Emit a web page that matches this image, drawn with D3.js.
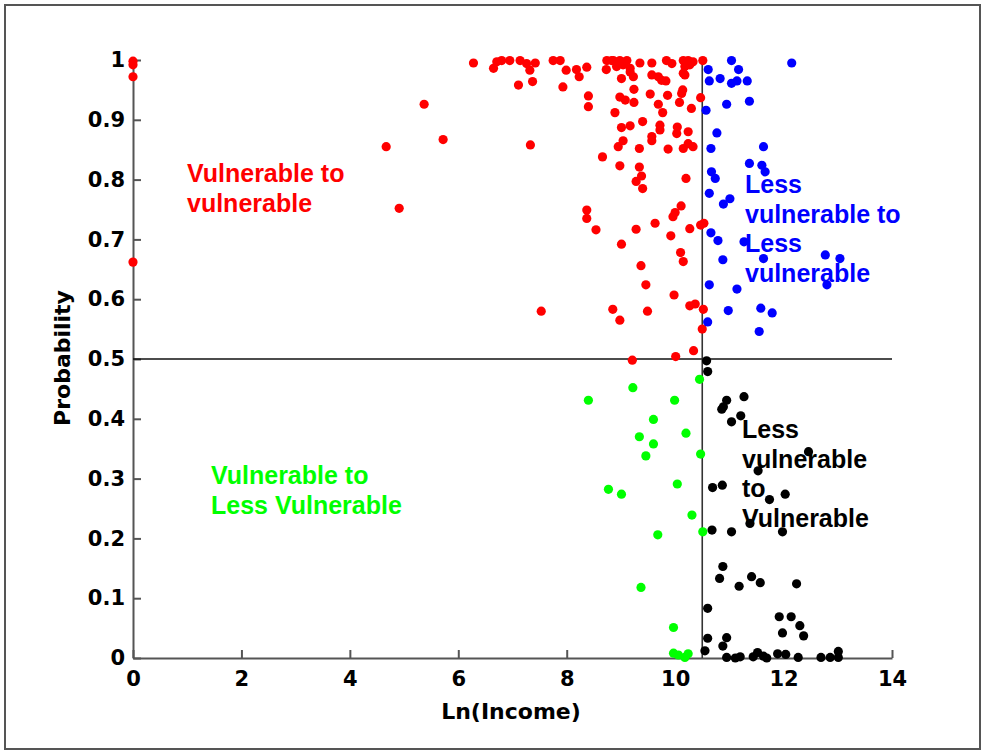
<!DOCTYPE html>
<html>
<head>
<meta charset="utf-8">
<script src="https://cdn.jsdelivr.net/npm/d3@7"></script>
<style>
  body { margin: 0; background: #fff; }
  .axis text { font-family: "DejaVu Sans", Verdana, sans-serif; font-weight: bold; font-size: 21px; fill: #000; }
  .axis path, .axis line { stroke: #555; stroke-width: 2; }
  .title { font-family: "DejaVu Sans", Verdana, sans-serif; font-weight: bold; font-size: 22px; }
  .note { font-family: "Liberation Sans", Arial, sans-serif; font-weight: bold; font-size: 25px; }
</style>
</head>
<body>
<script>
// data: [ln(income), probability]
var vulnToVuln = [
  [0,0.998],[0,0.992],[0,0.972],[0,0.662],
  [6.28,0.995],[6.65,0.986],[6.71,0.997],[6.80,0.999],[6.95,0.999],[7.14,0.999],[7.26,0.994],[7.32,0.983],[7.42,0.995],
  [7.75,0.999],[7.88,0.999],[7.99,0.983],[8.18,0.984],[8.23,0.972],[8.37,0.988],
  [7.11,0.958],[7.37,0.964],[7.93,0.955],[8.40,0.940],[8.40,0.922],[5.37,0.926],[5.72,0.867],[4.67,0.855],[7.33,0.858],
  [4.91,0.752],[8.66,0.838],[8.37,0.749],[8.37,0.735],[8.54,0.716],[9.01,0.692],[9.37,0.656],[9.46,0.624],[9.28,0.717],[9.63,0.727],
  [8.74,0.999],[8.83,0.999],[8.86,0.999],[8.98,0.999],[9.11,0.999],[8.73,0.984],[8.92,0.989],[9.04,0.992],[9.17,0.980],
  [9.17,0.986],[9.23,0.972],[9.01,0.969],[9.35,0.995],[9.57,0.995],[9.57,0.975],[9.69,0.972],[9.75,0.966],[9.83,0.965],
  [9.84,0.999],[9.94,0.994],
  [9.24,0.951],[9.54,0.943],[8.98,0.938],[9.08,0.933],[9.24,0.929],[9.69,0.926],[8.89,0.912],[9.01,0.887],[9.17,0.890],
  [9.40,0.897],[9.57,0.872],[9.57,0.865],[9.04,0.865],[8.95,0.855],[9.34,0.852],[8.98,0.823],[9.34,0.821],[9.38,0.806],
  [9.28,0.797],[9.40,0.785],
  [10.15,0.999],[10.24,0.999],[10.33,0.997],[10.27,0.992],[10.18,0.989],[10.51,0.999],[10.18,0.975],[10.15,0.978],
  [9.86,0.941],[10.14,0.950],[10.12,0.944],[10.47,0.937],[10.08,0.929],[9.77,0.912],[10.30,0.919],[9.72,0.891],[9.72,0.883],
  [10.04,0.888],[10.03,0.877],[10.24,0.880],[9.87,0.851],[10.15,0.852],[10.24,0.860],[10.33,0.855],
  [10.20,0.802],[10.11,0.756],[10.00,0.745],[9.96,0.738],[10.27,0.718],[10.47,0.724],[10.53,0.727],[9.92,0.706],
  [10.10,0.678],[10.15,0.663],[9.98,0.607],
  [7.53,0.580],[8.85,0.583],[8.98,0.565],[9.49,0.580],[10.27,0.589],[10.37,0.592],[10.52,0.583],[10.50,0.550],
  [10.34,0.514],[10.01,0.504],[9.21,0.498]
];

var lessToLess = [
  [11.04,0.999],[12.15,0.995],[10.61,0.984],[11.17,0.984],[10.63,0.965],[10.83,0.969],[11.04,0.961],[11.14,0.965],
  [11.33,0.965],[10.57,0.916],[10.95,0.926],[11.37,0.931],[10.77,0.878],[10.66,0.852],[11.63,0.855],[11.37,0.827],
  [11.60,0.824],[11.66,0.813],[10.67,0.813],[10.74,0.802],[10.63,0.777],[10.89,0.759],[11.01,0.768],[10.66,0.711],
  [10.79,0.698],[11.27,0.696],[10.88,0.666],[11.63,0.668],[12.77,0.674],[13.04,0.668],[12.80,0.624],[10.63,0.624],
  [11.14,0.617],[10.98,0.581],[11.58,0.585],[11.79,0.577],[10.60,0.562],[11.55,0.546]
];

var lessToVuln = [
  [10.58,0.497],[10.60,0.479],[11.27,0.437],[10.95,0.431],[10.89,0.420],[10.86,0.416],[11.21,0.405],[11.04,0.395],
  [12.46,0.345],[11.53,0.313],[10.69,0.285],[10.87,0.289],[11.74,0.265],[12.03,0.274],[10.68,0.214],[11.04,0.211],
  [11.38,0.225],[11.98,0.211],[10.88,0.153],[10.82,0.133],[11.18,0.120],[11.41,0.136],[11.57,0.126],[12.24,0.124],
  [10.60,0.083],[11.92,0.069],[12.14,0.069],[12.30,0.054],[11.98,0.042],[12.37,0.037],[10.60,0.033],[10.95,0.034],
  [10.88,0.020],[10.55,0.012],[10.95,0.001],[11.11,0.0],[11.20,0.002],[11.44,0.002],[11.52,0.009],[11.63,0.003],
  [11.69,0.0],[11.89,0.007],[12.04,0.006],[12.27,0.001],[12.69,0.001],[12.86,0.001],[13.01,0.011],[13.01,0.001]
];

var vulnToLess = [
  [10.45,0.466],[9.22,0.452],[8.40,0.431],[9.99,0.431],[9.60,0.399],[9.34,0.370],[10.20,0.376],[9.60,0.358],
  [9.46,0.338],[10.47,0.341],[8.77,0.282],[9.01,0.274],[10.04,0.291],[10.31,0.239],[10.51,0.211],[9.68,0.206],
  [9.37,0.118],[9.97,0.051],[9.97,0.008],[10.06,0.005],[10.18,0.001],[10.24,0.007]
];

var incomeCut = 10.5;
var probCut = 0.5;

var xTicks = [0,2,4,6,8,10,12,14];
var yTicks = [0,0.1,0.2,0.3,0.4,0.5,0.6,0.7,0.8,0.9,1];
var yTickLabels = ['0','0.1','0.2','0.3','0.4','0.5','0.6','0.7','0.8','0.9','1'];

var groups = [
  {name: 'Vulnerable to vulnerable', pts: vulnToVuln, color: '#ff0000',
   lines: ['Vulnerable to','vulnerable'], tx: 187, ty: 182},
  {name: 'Less vulnerable to Less vulnerable', pts: lessToLess, color: '#0000ff',
   lines: ['Less','vulnerable to','Less','vulnerable'], tx: 745, ty: 193},
  {name: 'Less vulnerable to Vulnerable', pts: lessToVuln, color: '#000000',
   lines: ['Less','vulnerable','to','Vulnerable'], tx: 742, ty: 438},
  {name: 'Vulnerable to Less Vulnerable', pts: vulnToLess, color: '#00ff00',
   lines: ['Vulnerable to','Less Vulnerable'], tx: 211, ty: 484}
];

var screen = {width: 985, height: 751};
var margin = {top: 60, right: 93, bottom: 93, left: 133};

var svg = d3.select('body').append('svg')
    .attr('width', screen.width)
    .attr('height', screen.height)
    .style('display', 'block');

// frame
svg.append('rect')
    .attr('x', 5).attr('y', 5)
    .attr('width', 975).attr('height', 744)
    .attr('fill', '#fff')
    .attr('stroke', '#555')
    .attr('stroke-width', 2);

// scale
var xScale = d3.scaleLinear()
    .domain([0, 14])
    .range([margin.left, screen.width - margin.right]);

var yScale = d3.scaleLinear()
    .domain([0, 1])
    .range([screen.height - margin.bottom, margin.top]);

// axes
var xAxis = d3.axisBottom(xScale)
    .tickValues(xTicks)
    .tickFormat(d3.format('d'))
    .tickSizeInner(-8)
    .tickSizeOuter(0)
    .tickPadding(13);
svg.append('g')
    .attr('class', 'axis')
    .attr('transform', 'translate(0,' + yScale(0) + ')')
    .call(xAxis);

var yAxis = d3.axisLeft(yScale)
    .tickValues(yTicks)
    .tickFormat(function(d, i){ return yTickLabels[i]; })
    .tickSizeInner(-8)
    .tickSizeOuter(0)
    .tickPadding(8);
svg.append('g')
    .attr('class', 'axis')
    .attr('transform', 'translate(' + xScale(0) + ',0)')
    .call(yAxis);

svg.selectAll('.axis .domain').attr('stroke', '#555').attr('stroke-width', 2);
svg.selectAll('.axis text').attr('font-family', null).attr('font-size', null);

// threshold lines
svg.append('line')
    .attr('x1', xScale(0)).attr('x2', xScale(14))
    .attr('y1', yScale(probCut)).attr('y2', yScale(probCut))
    .attr('stroke', '#111').attr('stroke-width', 1.6);
svg.append('line')
    .attr('x1', xScale(incomeCut)).attr('x2', xScale(incomeCut))
    .attr('y1', yScale(1)).attr('y2', yScale(0))
    .attr('stroke', '#333').attr('stroke-width', 1.6);

// titles
svg.append('text')
    .attr('class', 'title')
    .attr('x', 511).attr('y', 719)
    .attr('text-anchor', 'middle')
    .text('Ln(Income)');
svg.append('text')
    .attr('class', 'title')
    .attr('transform', 'translate(70,358) rotate(-90)')
    .attr('text-anchor', 'middle')
    .text('Probability');

// group labels
groups.forEach(function(g){
  var t = svg.append('text')
      .attr('class', 'note')
      .attr('fill', g.color);
  t.selectAll('tspan')
      .data(g.lines)
      .enter()
      .append('tspan')
      .attr('x', g.tx)
      .attr('y', function(d, i){ return g.ty + i * 29.5; })
      .text(function(d){ return d; });
});

// points
groups.forEach(function(g){
  svg.append('g')
      .selectAll('circle')
      .data(g.pts)
      .enter()
      .append('circle')
      .attr('cx', function(d){ return xScale(d[0]); })
      .attr('cy', function(d){ return yScale(d[1]); })
      .attr('r', 4.6)
      .attr('fill', g.color);
});
</script>
</body>
</html>
